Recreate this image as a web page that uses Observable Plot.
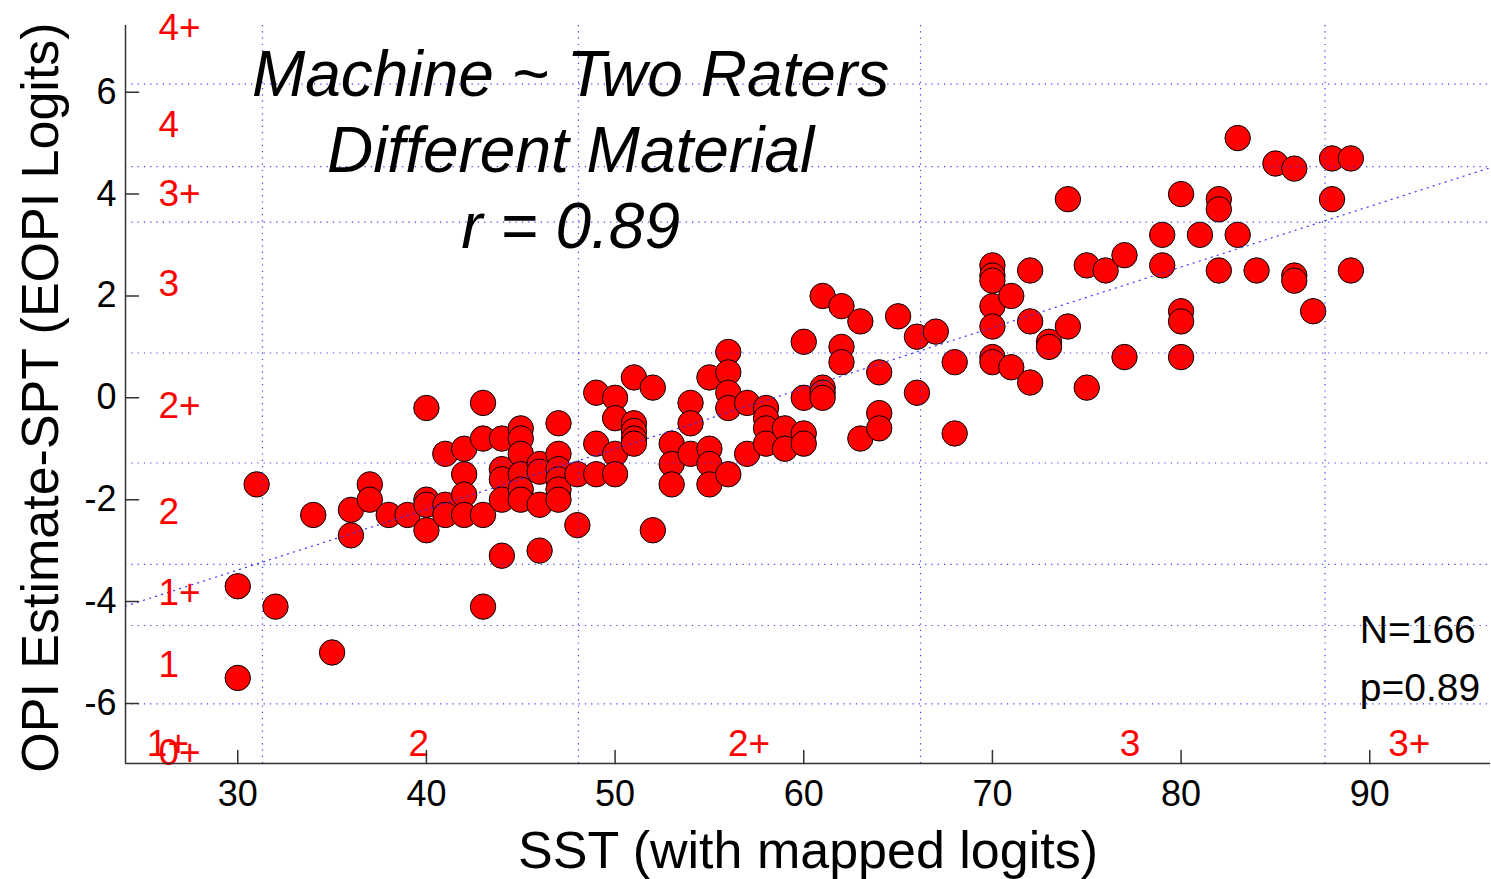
<!DOCTYPE html>
<html><head><meta charset="utf-8">
<script src="https://cdn.jsdelivr.net/npm/d3@7"></script>
<script src="https://cdn.jsdelivr.net/npm/@observablehq/plot@0.6"></script>
<style>html,body{margin:0;padding:0;background:#fff}</style>
</head><body><div id="chart"></div>
<script>
// SST score (x) and OPI estimate minus SPT in logits (y), one entry per visible point
const sst = [
  30,30, 31, 32, 34, 35, 36,36, 37,37, 38, 39,
  40,40,40,40, 41,41,41, 42,42,42,42, 43,43,43,43,
  44,44,44,44,44, 45,45,45,45,45,45, 46,46,46,46,
  47,47,47,47,47,47, 48,48, 49,49,49, 50,50,50,50,
  51,51,51,51,51, 52,52, 53,53,53, 54,54,54, 55,55,55,55,
  56,56,56,56,56, 57,57, 58,58,58,58, 59,59, 60,60,60,60,
  61,61,61,61, 62,62,62, 63,63, 64,64,64, 65, 66,66, 67, 68,68,
  70,70,70,70,70,70,70, 71,71, 72,72,72, 73,73, 74,74, 75,75, 76, 77,77,
  79,79, 80,80,80,80, 81, 82,82,82, 83,83, 84, 85, 86,86,86, 87, 88,88, 89,89
];
const opi = [
  -3.7,-5.5, -1.7, -4.1, -2.3, -5.0, -2.2,-2.7, -1.7,-2.0, -2.3, -2.3,
  -0.2,-2.0,-2.1,-2.6, -1.1,-2.1,-2.3, -1.0,-1.5,-1.9,-2.3, -0.1,-0.8,-2.3,-4.1,
  -0.8,-1.4,-1.6,-2.0,-3.1, -0.6,-0.8,-1.1,-1.5,-1.8,-2.0, -1.3,-1.45,-2.1,-3.0,
  -0.5,-1.1,-1.4,-1.6,-1.8,-2.0, -1.5,-2.5, 0.1,-0.9,-1.5, 0.0,-0.4,-1.1,-1.5,
  0.4,-0.5,-0.65,-0.8,-0.9, 0.2,-2.6, -0.9,-1.3,-1.7, -0.1,-0.5,-1.1, 0.4,-1.0,-1.3,-1.7,
  0.9,0.5,0.1,-0.2,-1.5, -0.1,-1.1, -0.2,-0.4,-0.6,-0.9, -0.6,-1.0, 1.1,0.0,-0.7,-0.9,
  2.0,0.2,0.1,0.0, 1.8,1.0,0.7, 1.5,-0.8, 0.5,-0.3,-0.6, 1.6, 1.2,0.1, 1.3, 0.7,-0.7,
  2.6,2.4,2.3,1.8,1.4,0.8,0.7, 2.0,0.6, 2.5,1.5,0.3, 1.1,1.0, 3.9,1.4, 2.6,0.2, 2.5, 2.8,0.8,
  3.2,2.6, 4.0,1.7,1.5,0.8, 3.2, 3.9,3.7,2.5, 5.1,3.2, 2.5, 4.6, 4.5,2.4,2.3, 1.7, 4.7,3.9, 4.7,2.5
];
const xTicks = [30, 40, 50, 60, 70, 80, 90];
const yTicks = [-6, -4, -2, 0, 2, 4, 6];
const xLimits = [24.05, 96.4];
const yLimits = [-7.18, 7.31];
// grade boundaries (dotted grid)
const gradeBoundsY = [6.16, 4.54, 3.45, 0.88, -1.28, -3.27, -4.47, -6.01];
const gradeBoundsX = [31.31, 48.06, 66.19, 87.63];
// grade labels
const gradeLabelsY = ["4+", "4", "3+", "3", "2+", "2", "1+", "1", "0+"];
const gradeLabelYVal = [7.25, 5.35, 4.0, 2.23, -0.17, -2.24, -3.83, -5.25, -6.97];
const gradeLabelsX = ["1+", "2", "2+", "3", "3+"];
const gradeLabelXVal = [26.3, 39.6, 57.1, 77.3, 92.1];
// fitted line end points
const fitX = [24.05, 96.4];
const fitY = [-4.09, 4.52];
const titleLines = ["Machine ~ Two Raters", "Different Material", "r = 0.89"];
const statLines = ["N=166", "p=0.89"];
const xLabel = "SST (with mapped logits)";
const yLabel = "OPI Estimate-SPT (EOPI Logits)";

const points = sst.map((x, i) => ({x, y: opi[i]}));
const fit = fitX.map((x, i) => ({x, y: fitY[i]}));
const tickShape = {draw(ctx, l) { ctx.moveTo(0, 0); ctx.lineTo(0, -l); }};
const grid = {stroke: "#2f2fff", strokeWidth: 1.2, strokeDasharray: "1.2,5.1", strokeOpacity: 0.95};
const font = "'Liberation Sans', Arial, Helvetica, sans-serif";

const chart = Plot.plot({
  width: 1491, height: 879,
  marginLeft: 125, marginRight: 1, marginTop: 25, marginBottom: 116,
  style: {fontFamily: font, background: "#fff", color: "#000"},
  x: {domain: xLimits},
  y: {domain: yLimits},
  marks: [
    Plot.dot(points, {x: "x", y: "y", r: 12.7, fill: "#ff0000", stroke: "#000", strokeWidth: 1}),
    Plot.ruleY(gradeBoundsY, grid),
    Plot.ruleX(gradeBoundsX, grid),
    Plot.line(fit, {x: "x", y: "y", ...grid}),
    Plot.text(gradeLabelsY, {x: () => 25.8, y: (d, i) => gradeLabelYVal[i], text: d => d,
      textAnchor: "start", lineAnchor: "middle", fontSize: 37, fill: "#ff0000"}),
    Plot.text(gradeLabelsX, {x: (d, i) => gradeLabelXVal[i], y: () => -6.8, text: d => d,
      textAnchor: "middle", lineAnchor: "middle", fontSize: 37, fill: "#ff0000"}),
    Plot.text([titleLines.join("\n")], {x: () => 47.64, y: () => 6.98, text: d => d,
      textAnchor: "middle", lineAnchor: "top", lineHeight: 1.1875, fontSize: 64, fontStyle: "italic", fill: "#000"}),
    Plot.text([statLines.join("\n")], {x: () => 89.47, y: () => -4.0, text: d => d,
      textAnchor: "start", lineAnchor: "top", lineHeight: 1.49, fontSize: 39, fill: "#000"}),
    Plot.ruleX([xLimits[0]], {stroke: "#333", strokeWidth: 1.5}),
    Plot.ruleY([yLimits[0]], {stroke: "#333", strokeWidth: 1.5}),
    Plot.vector(xTicks, {x: d => d, frameAnchor: "bottom", length: 13, anchor: "start", rotate: 0, shape: tickShape, stroke: "#333", strokeWidth: 1.5}),
    Plot.vector(yTicks, {y: d => d, frameAnchor: "left", length: 13, anchor: "start", rotate: 90, shape: tickShape, stroke: "#333", strokeWidth: 1.5}),
    Plot.axisX(xTicks, {tickSize: 0, tickPadding: 17, fontSize: 36, label: null, color: "#000"}),
    Plot.axisY(yTicks, {tickSize: 0, tickPadding: 9, fontSize: 36, label: null, color: "#000", tickFormat: d => String(d).replace("\u2212", "-")}),
    Plot.text([xLabel], {frameAnchor: "bottom", dy: 104, textAnchor: "middle", lineAnchor: "bottom", fontSize: 52, fill: "#000"}),
    Plot.text([yLabel], {frameAnchor: "left", dx: -68, dy: 3, rotate: -90, textAnchor: "middle", lineAnchor: "bottom", fontSize: 52, fill: "#000"})
  ]
});
document.getElementById("chart").appendChild(chart);
</script>
</body></html>
